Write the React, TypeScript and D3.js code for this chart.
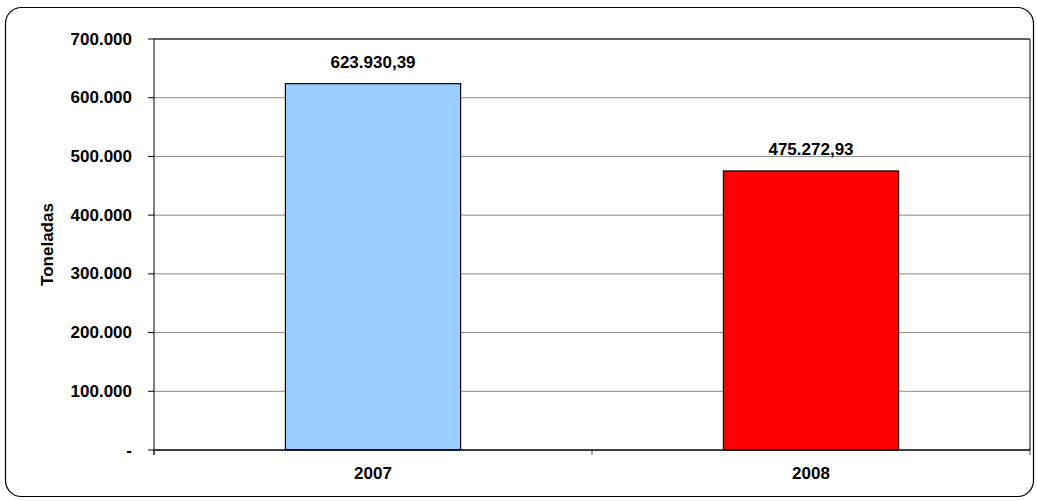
import React from "react";
import * as d3 from "d3";

const categories = ["2007", "2008"];
const values = [623930.39, 475272.93];
const valueLabels = ["623.930,39", "475.272,93"];
const barColors = ["#99CCFF", "#FF0000"];
const yTicks = [0, 100000, 200000, 300000, 400000, 500000, 600000, 700000];
const yTickLabels = ["-", "100.000", "200.000", "300.000", "400.000", "500.000", "600.000", "700.000"];
const yTitle = "Toneladas";

export default function App() {
  const W = 1037, H = 501;
  const left = 154, right = 1030, top = 39, bottom = 450;
  const font = "Arial, 'Liberation Sans', sans-serif";
  const fs = 17;
  const x = d3.scaleBand<string>().domain(categories).range([left, right]).paddingInner(0.6).paddingOuter(0.3);
  const xOuter = d3.scaleBand<string>().domain(categories).range([left, right]);
  const y = d3.scaleLinear().domain([0, 700000]).range([bottom, top]);
  return (
    <svg width={W} height={H} style={{ position: "absolute", left: 0, top: 0 }}>
      <rect x={0} y={0} width={W} height={H} fill="#fff" />
      <rect x={5.5} y={7.5} width={1028} height={489} rx={16} ry={16} fill="#fff" stroke="#000" strokeWidth={1.2} />
      {yTicks.map((t, i) => (
        <g key={i}>
          {t > 0 && <line x1={left} x2={right} y1={y(t)} y2={y(t)} stroke="#888" strokeWidth={1} />}
          <line x1={left - 6} x2={left} y1={y(t)} y2={y(t)} stroke="#000" />
          <text x={132} y={y(t) + 5.5} textAnchor="end" fontFamily={font} fontWeight="bold" fontSize={fs}>
            {yTickLabels[i]}
          </text>
        </g>
      ))}
      <line x1={left} x2={right} y1={top} y2={top} stroke="#000" />
      <line x1={right} x2={right} y1={top} y2={bottom} stroke="#000" />
      {categories.map((c, i) => (
        <g key={c}>
          <rect x={x(c)} y={y(values[i])} width={x.bandwidth()} height={bottom - y(values[i])} fill={barColors[i]} stroke="#000" strokeWidth={1.2} />
          <text x={x(c)! + x.bandwidth() / 2} y={y(values[i]) - 15.5} textAnchor="middle" fontFamily={font} fontWeight="bold" fontSize={fs}>
            {valueLabels[i]}
          </text>
          <text x={xOuter(c)! + xOuter.bandwidth() / 2} y={479} textAnchor="middle" fontFamily={font} fontWeight="bold" fontSize={fs}>
            {c}
          </text>
        </g>
      ))}
      {[left, left + xOuter.bandwidth(), right].map((px, i) => (
        <line key={i} x1={px} x2={px} y1={bottom} y2={bottom + 5} stroke="#555" />
      ))}
      <line x1={left} x2={right} y1={bottom} y2={bottom} stroke="#000" strokeWidth={1.5} />
      <line x1={left} x2={left} y1={top} y2={bottom + 5} stroke="#000" />
      <text transform={`translate(53,${(top + bottom) / 2}) rotate(-90)`} textAnchor="middle" fontFamily={font} fontWeight="bold" fontSize={fs}>
        {yTitle}
      </text>
    </svg>
  );
}
